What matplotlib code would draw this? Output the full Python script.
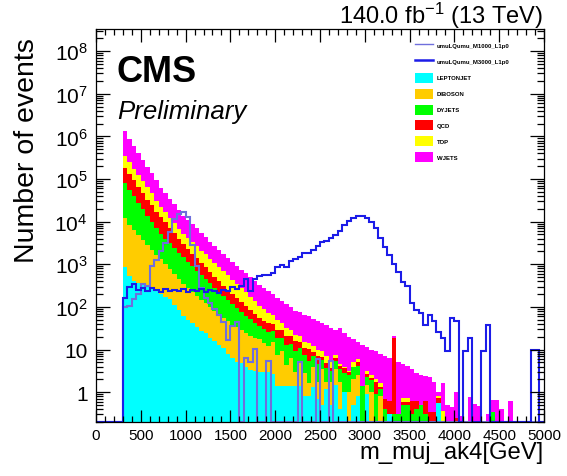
import numpy as np
import matplotlib
matplotlib.use('Agg')
import matplotlib.pyplot as plt
import matplotlib.ticker as ticker
from matplotlib.patches import Patch
from matplotlib.lines import Line2D

plt.rcParams['font.family'] = 'Liberation Sans'
plt.rcParams['mathtext.fontset'] = 'custom'
plt.rcParams['mathtext.rm'] = 'Liberation Sans'
plt.rcParams['mathtext.it'] = 'Liberation Sans:italic'
plt.rcParams['mathtext.bf'] = 'Liberation Sans:bold'

# 50 GeV bins from 300 to 5000 GeV (94 bins)
edges = np.arange(300, 5001, 50)

leptonjet = [870, 540, 410, 360, 330, 300, 270, 240, 200, 170,
             150, 110, 85, 62, 50, 42, 33, 28, 24, 19,
             16, 13, 11, 8, 6.5, 5.0, 4.8, 3.8, 3.3, 3.1,
             2.9, 2.9, 2.9, 2.7, 1.4, 1.4, 1.4, 1.4, 1.4, 1.4,
             0.8, 0.8, 1.3, 0.7, 0.5, 1.2, 0.5, 1.5, 0.4, 1.0,
             0, 0.5, 0.8, 0, 0.9, 0, 0, 0, 0, 0.3,
             0, 0, 0, 0, 0, 0, 0, 0, 0, 0,
             0.55] + [0] * 23
diboson = [11100, 8000, 6000, 4400, 3300, 2500, 1900, 1450, 1120, 850,
           640, 490, 370, 285, 230, 185, 150, 120, 98, 80,
           65, 54, 45, 38, 32, 28, 24, 21, 18, 16,
           14.5, 11, 9, 12, 6, 8, 3, 5, 1.5, 4,
           2, 0.8, 2.5, 1.0, 3.0, 0.5, 1.2, 2.0, 1.3, 0,
           1.0, 1.5, 1.8, 0, 0.6, 1.0, 0, 0.8, 0, 0,
           0, 0, 0, 0.2] + [0] * 30
dyjets = [67000, 47000, 33000, 23000, 16000, 11000, 7800, 5400, 3800, 2960,
          2300, 1800, 1400, 1100, 860, 680, 530, 420, 330, 260,
          200, 155, 122, 96, 76, 60, 48, 38, 30, 24,
          19, 16.5, 14.5, 12.6, 11, 9.6, 8.4, 7.4, 6.5, 5.5,
          4.6, 3.9, 3.3, 2.8, 2.3, 1.9, 1.5, 2.0, 1.8, 1.8,
          1.5, 1.8, 1.5, 1.4, 0.8, 0.9, 0.9, 0.4, 0.4, 0,
          0.3, 0.3, 0.5, 0.3, 0.3, 0.4, 0.5, 0.3, 0.2, 0,
          0, 0, 0, 0, 0.15, 0, 0, 0, 0, 0,
          0, 0, 0.35] + [0] * 11
qcd = [107000, 75000, 53000, 38000, 27000, 19000, 14000, 10000, 7800, 5600,
       4000, 2900, 2100, 1500, 1150, 880, 670, 520, 400, 300,
       230, 180, 138, 110, 85, 68, 53, 42, 33, 26,
       20, 17, 15, 13, 11, 9.5, 8.3, 7.2, 6.3, 4.5,
       3.2, 5.0, 1.6, 2.5, 0.8, 1.2, 0.4, 0.7, 0.6, 0.9,
       0.4, 0.2, 1.0, 0, 0.4, 0.3, 0.8, 0.1, 0.28, 0.33,
       18.7, 0, 0.1, 0.1, 0.33, 0.23, 0, 0.33, 0.14, 0.34,
       0.2, 0, 0, 0, 0.1, 0, 0, 0.2] + [0] * 16
top = [160000, 115000, 83000, 60000, 43000, 31000, 22000, 14000, 9000, 7000,
       5200, 4000, 2900, 2200, 1800, 1500, 1250, 1000, 850, 700,
       580, 470, 390, 300, 240, 190, 150, 115, 90, 68,
       51, 40, 31, 24, 19, 14, 11, 8.3, 6.2, 5.3,
       4.5, 3.9, 3.4, 2.9, 2.5, 2.1, 1.8, 1.2, 0.5, 0.3,
       0.3, 1.0, 0.8, 0, 0.5, 0.3, 0.3, 0.3, 0, 0,
       0, 0, 0.14, 0.14, 0, 0, 0, 0, 0, 0,
       0.05, 0.36] + [0] * 22
wjets = [980000, 630000, 420000, 280000, 190000, 130000, 93000, 62000, 41000, 30000,
         22000, 16000, 12000, 8700, 6900, 5400, 4300, 3300, 2600, 2000,
         1600, 1260, 1000, 830, 680, 560, 470, 390, 320, 260,
         220, 186, 158, 135, 115, 98, 83, 71, 60, 55,
         50, 46, 41, 37, 34, 30, 27.5, 22, 27, 21,
         16.8, 12.8, 9.1, 11.2, 8.3, 7.5, 7.1, 6.3, 6.5, 5.7,
         1.5, 4.9, 3.8, 3.3, 2.9, 2.2, 2.1, 1.8, 1.9, 1.36,
         0.2, 1.3, 0.5, 0.45, 0.75, 0.28, 0, 0.56, 0.52, 0.48,
         0, 0.3, 0.3, 0.65, 0.4, 0, 0.63] + [0] * 7

sig_m1000 = [98, 107, 151, 200, 347, 316, 912, 1259, 2089, 3236,
             5623, 11480, 15140, 16600, 12590, 2818, 891, 282, 158, 126,
             89, 63, 44, 17, 35, 44, 0, 6.2, 5.0, 10.5,
             0, 0, 5.5, 0, 0, 0, 0, 0, 0, 5.0,
             0, 0, 0, 5.9, 0, 0, 5.5] + [0] * 47
sig_m3000 = [166, 288, 347, 251, 282, 240, 275, 251, 229, 263,
             234, 251, 240, 269, 229, 251, 240, 263, 224, 251,
             234, 214, 251, 234, 288, 263, 302, 447, 240, 447,
             537, 562, 562, 617, 871, 955, 871, 1175, 1318, 1445,
             1820, 1820, 2188, 2692, 3388, 3548, 4074, 4898, 6166, 8318,
             10230, 12020, 13800, 13800, 12020, 10000, 7080, 4170, 2510, 1620,
             1000, 660, 380, 302, 126, 83, 74, 38, 65, 47,
             26, 19, 9.3, 56, 46, 0, 9.3, 19, 0, 0,
             9.3, 38, 0, 0, 0, 0, 0, 0, 0, 0,
             0, 10, 10, 0]

names = ['LEPTONJET', 'DIBOSON', 'DYJETS', 'QCD', 'TOP', 'WJETS']
colors = ['#00ffff', '#ffcc00', '#00ff00', '#ff0000', '#ffff00', '#ff00ff']
c_m1000 = '#6f6fdc'
c_m3000 = '#1c1ce8'

ymin, ymax = 0.2, 3.3e8
floor = 1e-3

fig = plt.figure(figsize=(5.67, 4.77), dpi=100)
ax = fig.add_axes([0.1693, 0.1132, 0.7901, 0.8239])
ax.set_yscale('log')

# stacked backgrounds, drawn as cumulative histograms from the top down
stack = np.array([leptonjet, diboson, dyjets, qcd, top, wjets], dtype=float)
cum = np.cumsum(stack, axis=0)
for k in range(len(names) - 1, -1, -1):
    vals = np.where(cum[k] > 0, cum[k], floor)
    ax.stairs(vals, edges, baseline=floor, fill=True, color=colors[k], lw=0)

# signals (empty region 0-300 GeV included)
sedges = np.concatenate(([0], edges))
for sig, c, lw in [(sig_m1000, c_m1000, 1.5), (sig_m3000, c_m3000, 1.5)]:
    v = np.concatenate(([0], np.array(sig, dtype=float)))
    v = np.where(v > 0, v, ymin)
    ax.stairs(v, sedges, color=c, lw=lw, baseline=None)

ax.set_xlim(0, 5000)
ax.set_ylim(ymin, ymax)

ax.xaxis.set_major_locator(ticker.MultipleLocator(500))
ax.xaxis.set_minor_locator(ticker.MultipleLocator(100))
yt = [10.0 ** k for k in range(9)]
ylab = ['1', '10'] + [r'$10^{%d}$' % k for k in range(2, 9)]
ax.yaxis.set_major_locator(ticker.FixedLocator(yt))
ax.yaxis.set_major_formatter(ticker.FixedFormatter(ylab))
ax.yaxis.set_minor_locator(ticker.LogLocator(base=10, subs=np.arange(2, 10), numticks=20))
ax.yaxis.set_minor_formatter(ticker.NullFormatter())

ax.tick_params(which='both', direction='in', top=True, right=True, width=0.9)
ax.tick_params(axis='x', which='major', length=9, labelsize=11, pad=4)
ax.tick_params(axis='x', which='minor', length=4.5)
ax.tick_params(axis='y', which='major', length=10, labelsize=15, pad=6)
ax.tick_params(axis='y', which='minor', length=5)
for s in ax.spines.values():
    s.set_linewidth(0.9)

# texts
fig.text(543 / 567, 1 - 24 / 477, r'140.0 fb$^{-1}$ (13 TeV)', ha='right', va='baseline', fontsize=17)
fig.text(117 / 567, 1 - 82 / 477, 'CMS', ha='left', va='baseline', fontsize=26, fontweight='bold')
fig.text(117 / 567, 1 - 119 / 477, 'Preliminary', ha='left', va='baseline', fontsize=18.6, fontstyle='italic')
fig.text(544 / 567, 1 - 459 / 477, 'm_muj_ak4[GeV]', ha='right', va='baseline', fontsize=17.2)
fig.text(34 / 567, 1 - 38 / 477, 'Number of events', rotation=90, rotation_mode='anchor',
         ha='right', va='baseline', fontsize=20.5)

# legend
handles = [Line2D([], [], color=c_m1000, lw=1.0), Line2D([], [], color=c_m3000, lw=1.8)]
handles += [Patch(facecolor=c, edgecolor='none') for c in colors]
labels = ['umuLQumu_M1000_L1p0', 'umuLQumu_M3000_L1p0'] + names
fig.legend(handles, labels, loc='upper left', bbox_to_anchor=(415 / 567, 1 - 41.6 / 477),
           bbox_transform=fig.transFigure, frameon=False, borderpad=0, borderaxespad=0,
           prop={'size': 4.3, 'weight': 'bold'}, handlelength=2.95, handleheight=2.2,
           handletextpad=0.67, labelspacing=1.0)

fig.savefig('out.png', dpi=100)
